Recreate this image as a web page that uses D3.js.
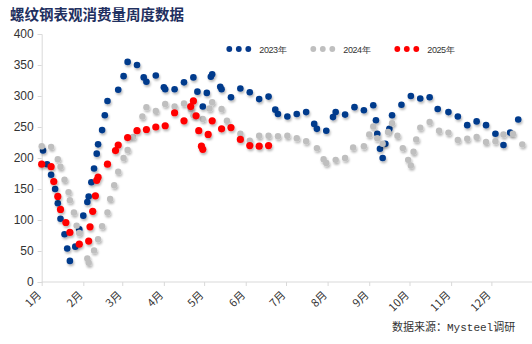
<!DOCTYPE html>
<html><head><meta charset="utf-8">
<script src="https://cdn.jsdelivr.net/npm/d3@7"></script>
<style>body{margin:0;background:#fff;} svg{display:block;}</style>
</head><body>
<svg id="c" width="532" height="344"></svg>
<script>
const title = "螺纹钢表观消费量周度数据";
const source = ["数据来源：", "Mysteel", "调研"];
const monthLabels = ["1月","2月","3月","4月","5月","6月","7月","8月","9月","10月","11月","12月"];
const yTicks = [0,50,100,150,200,250,300,350,400];
const seriesNames = ["2023年","2024年","2025年"];

// day of year (days since Jan 1) and weekly apparent consumption (万吨)
const days2023 = [1,4,7,10,12,14,17,19,21,25,28,31,34,35,37,39,41,42,45,47,49,57,61,64,71,76,78,85,91,92,99,106,113,116,120,123,126,127,133,134,141,148,155,162,169,174,176,183,190,197,203,205,212,217,219,226,233,240,247,249,250,252,254,256,259,261,268,275,282,289,295,303,310,317,324,331,338,344,349,355];
const values2023 = [212,190,173,150,127,102,77,54,34,57,85,107,129,138,161,183,207,222,245,269,292,310,332,355,350,330,323,333,314,311,311,322,330,307,283,305,331,335,315,311,298,312,306,295,299,278,271,267,271,274,255,247,244,266,274,270,282,277,285,261,239,215,200,223,247,269,286,300,296,298,279,274,267,253,259,253,239,221,241,262];

const days2024 = [0,7,12,14,17,20,21,24,26,28,34,35,39,42,45,49,51,54,57,61,64,68,75,78,85,92,99,106,111,113,120,125,127,134,138,148,155,162,169,176,183,190,197,205,210,212,219,226,232,240,244,247,250,254,258,261,265,269,273,275,277,279,282,289,296,303,310,317,324,331,338,344,351,358];
const values2024 = [219,218,198,186,165,145,132,112,91,79,38,31,51,69,90,112,134,156,178,200,213,234,267,282,276,287,283,288,279,269,263,280,290,279,260,239,228,236,236,235,236,232,227,216,198,192,197,200,217,219,238,251,232,223,242,256,236,216,197,188,210,230,249,258,244,241,229,231,234,226,227,238,239,222];

const days2025 = [0,7,9,12,14,18,21,28,35,36,38,40,41,42,49,55,57,64,71,78,85,92,99,106,111,113,115,117,119,120,124,127,134,141,148,155,162,169];
const values2025 = [190,186,162,138,117,96,80,61,66,89,114,139,164,169,190,212,221,233,244,246,250,252,273,260,283,292,268,244,219,214,238,260,247,249,230,220,219,220];

const colors = ["#063a8c","#bfbfbf","#ff0000"];
const radii = [3.3,3.2,3.6];

const svg = d3.select("#c");
const defs = svg.append("defs");
const f = defs.append("filter").attr("id","sh").attr("x","-50%").attr("y","-50%").attr("width","200%").attr("height","200%");
f.append("feDropShadow").attr("dx",1).attr("dy",2).attr("stdDeviation",1.2).attr("flood-color","#000").attr("flood-opacity",0.28);

const base = new Date(2024,0,1);
const x = d3.scaleTime().domain([base, new Date(2025,0,1)]).range([41.7, 533]);
const y = d3.scaleLinear().domain([0,400]).range([282,34]);
const toDate = d => d3.timeDay.offset(base, d);

// title
svg.append("text").attr("x",10).attr("y",20).text(title)
  .attr("font-family","'Noto Sans CJK SC'").attr("font-weight","bold")
  .attr("font-size",14.5).attr("fill","#1f3060");

// y axis
const ya = svg.append("g").attr("transform","translate(41.7,0)")
  .call(d3.axisLeft(y).tickValues(yTicks).tickSize(4).tickPadding(4));
ya.selectAll("path,line").attr("stroke","#d9d9d9");
ya.selectAll("text").attr("font-family","'Liberation Sans',Arial").attr("font-size",12).attr("fill","#333");

// x axis
const months = d3.timeMonth.range(base, new Date(2025,0,1));
const xa = svg.append("g").attr("transform","translate(0,282)")
  .call(d3.axisBottom(x).tickValues(months).tickSize(4).tickFormat((d,i)=>monthLabels[i]));
xa.select(".domain").attr("d","M41.7,0H532");
xa.selectAll("path,line").attr("stroke","#d9d9d9");
xa.selectAll("text").attr("font-family","'Noto Sans CJK SC'").attr("font-size",11).attr("fill","#333")
  .attr("text-anchor","end").attr("transform","translate(-3,11) rotate(-45)").attr("dy","0.35em").attr("y",0).attr("x",0);

// series
const series = [[days2023,values2023],[days2024,values2024],[days2025,values2025]];
series.forEach(([ds,vs],k)=>{
  svg.append("g").attr("filter","url(#sh)").selectAll("circle")
    .data(ds.map((d,i)=>({d:toDate(d),v:vs[i]})))
    .join("circle")
    .attr("cx",p=>x(p.d)).attr("cy",p=>y(p.v)).attr("r",radii[k]).attr("fill",colors[k]);
});

// legend
const legX = [229.3, 313.3, 397.3];
seriesNames.forEach((n,k)=>{
  const g = svg.append("g").attr("transform",`translate(${legX[k]},49)`);
  [0,1,2].forEach(j=>g.append("circle").attr("cx",j*9.5).attr("cy",0).attr("r",2.9).attr("fill",colors[k]));
  g.append("text").attr("x",30).attr("y",3.5).text(n)
    .attr("font-family","'Liberation Sans',Arial").attr("font-size",9).attr("letter-spacing",-0.4).attr("fill","#333");
});

// source
const st = svg.append("text").attr("x",392).attr("y",331).attr("font-size",11).attr("fill","#333")
  .attr("font-family","'Noto Sans CJK SC'");
st.append("tspan").text(source[0]);
st.append("tspan").attr("font-family","'Liberation Mono',monospace").text(source[1]);
st.append("tspan").text(source[2]);
</script>
</body></html>
